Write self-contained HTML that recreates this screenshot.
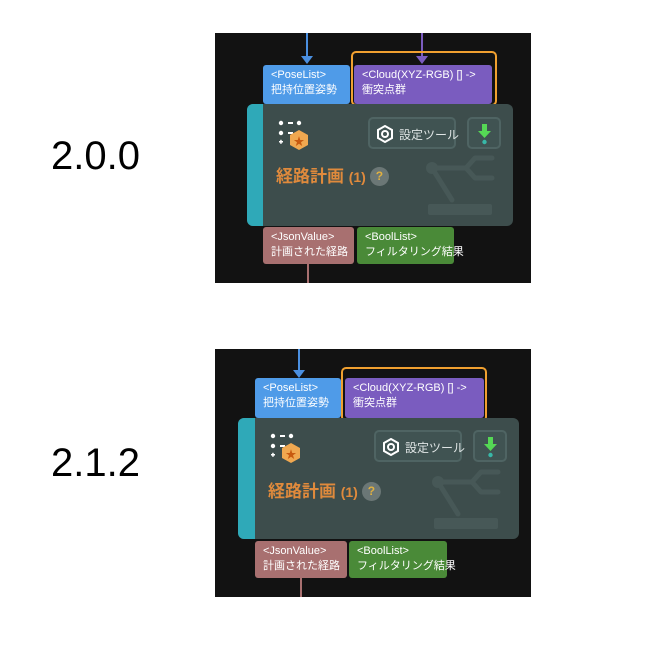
<!DOCTYPE html>
<html><head><meta charset="utf-8"><style>
*{margin:0;padding:0;box-sizing:border-box}
body{width:645px;height:651px;background:#fff;position:relative;overflow:hidden;font-family:"Liberation Sans","Noto Sans CJK JP",sans-serif}
.ver{position:absolute;left:51px;font-size:40px;color:#000;font-family:"Liberation Sans",sans-serif}
.panel{position:absolute;left:215px;width:316px;background:#121212}
.ab{position:absolute}
.port{position:absolute;border-radius:3px;color:#fff;font-size:11px;line-height:15px;padding:3px 0 0 8px;white-space:nowrap}
.node{position:absolute;background:#3d4d4c;border-radius:6px;overflow:hidden}
.strip{position:absolute;left:0;top:0;bottom:0;width:16px;background:#2fa9b8}
.btn{position:absolute;top:13px;height:32px;border:2px solid #4f6463;border-radius:5px;background:#405352}
.title{position:absolute;font-size:17px;font-weight:bold;color:#e08a3c;white-space:nowrap}
.q{display:inline-block;width:19px;height:19px;border-radius:50%;background:#6b7776;color:#e0b040;font-size:12px;text-align:center;line-height:19px;vertical-align:2px;margin-left:4px}
</style></head><body>
<div class="ver" style="top:134px">2.0.0</div>
<div class="ver" style="top:441px">2.1.2</div>

<div class="panel" style="top:33px;height:250px"></div>
<div class="panel" style="top:349px;height:248px"></div>
<svg class="ab" style="left:0;top:0" width="645" height="651">
<line x1="307" y1="33" x2="307" y2="58" stroke="#4a8fe0" stroke-width="2"/>
<polygon points="301,56 313,56 307,64" fill="#4a8fe0"/>
<line x1="422" y1="33" x2="422" y2="58" stroke="#7b5cc0" stroke-width="2"/>
<polygon points="416,56 428,56 422,64" fill="#7b5cc0"/>
<line x1="308" y1="264" x2="308" y2="283" stroke="#a87070" stroke-width="2"/>
<line x1="299" y1="349" x2="299" y2="372" stroke="#4a8fe0" stroke-width="2"/>
<polygon points="293,370 305,370 299,378" fill="#4a8fe0"/>
<line x1="301" y1="578" x2="301" y2="597" stroke="#a87070" stroke-width="2"/>
</svg>

<div class="ab" style="left:351px;top:51px;width:146px;height:55px;border:2px solid #f0a030;border-radius:5px"></div>
<div class="port" style="left:263px;top:65px;width:87px;height:39px;background:#4f9be8">&lt;PoseList&gt;<br>把持位置姿勢</div>
<div class="port" style="left:354px;top:65px;width:138px;height:39px;background:#7a5cbf">&lt;Cloud(XYZ-RGB) [] -&gt;<br>衝突点群</div>
<div class="node" style="left:247px;top:104px;width:266px;height:122px">
 <div class="strip"></div>
 <svg class="ab" style="right:0;top:0" width="266" height="122"><g stroke="#475857" stroke-width="5" fill="none" stroke-linecap="round" stroke-linejoin="round"><line x1="185" y1="64" x2="205" y2="96"/><path d="M185 64 L219 64 L228 54 L245 54 M219 64 L228 74 L245 74"/></g><circle cx="185" cy="64" r="6" fill="#475857"/><rect x="181" y="100" width="64" height="11" rx="2" fill="#475857"/></svg>
 <svg class="ab" style="left:31px;top:16px" width="36" height="32"><g fill="#fff"><circle cx="3" cy="3" r="2.2"/><rect x="10" y="2" width="5" height="2"/><circle cx="21" cy="3" r="2.2"/><circle cx="3" cy="13" r="2.2"/><rect x="10" y="12" width="5" height="2"/><rect x="1" y="21" width="4" height="1.5"/><rect x="2.2" y="19.8" width="1.5" height="4"/></g><polygon points="21,10 30,15 30,25 21,30 12,25 12,15" fill="#f0a850"/><text x="21" y="25" font-size="11" fill="#c85a10" text-anchor="middle">★</text></svg>
 <div class="btn" style="right:57px;width:88px"><svg class="ab" style="left:6px;top:6px" width="18" height="18"><polygon points="9,1 16,5 16,13 9,17 2,13 2,5" fill="none" stroke="#fff" stroke-width="2"/><circle cx="9" cy="9" r="3" fill="none" stroke="#fff" stroke-width="2"/></svg><span class="ab" style="left:29px;top:7px;font-size:12px;color:#dfe5e5;white-space:nowrap">設定ツール</span></div>
 <div class="btn" style="right:12px;width:34px"><svg class="ab" style="left:8px;top:4px" width="16" height="22"><rect x="5" y="1" width="5" height="7" fill="#55d855"/><polygon points="1,8 14,8 7.5,15" fill="#55d855"/><circle cx="7.5" cy="19" r="2.2" fill="#38b8a8"/></svg></div>
 <div class="title" style="left:29px;top:58px">経路計画 <span style="font-size:14px">(1)</span><span class="q">?</span></div>
</div>
<div class="port" style="left:263px;top:227px;width:91px;height:37px;background:#a87070">&lt;JsonValue&gt;<br>計画された経路</div>
<div class="port" style="left:357px;top:227px;width:97px;height:37px;background:#4a8a38">&lt;BoolList&gt;<br>フィルタリング結果</div>

<div class="ab" style="left:341px;top:367px;width:146px;height:55px;border:2px solid #f0a030;border-radius:5px"></div>
<div class="port" style="left:255px;top:378px;width:86px;height:40px;background:#4f9be8">&lt;PoseList&gt;<br>把持位置姿勢</div>
<div class="port" style="left:345px;top:378px;width:139px;height:40px;background:#7a5cbf">&lt;Cloud(XYZ-RGB) [] -&gt;<br>衝突点群</div>
<div class="node" style="left:238px;top:418px;width:281px;height:121px">
 <div class="strip" style="width:17px"></div>
 <svg class="ab" style="right:0;top:0" width="266" height="122"><g stroke="#475857" stroke-width="5" fill="none" stroke-linecap="round" stroke-linejoin="round"><line x1="185" y1="64" x2="205" y2="96"/><path d="M185 64 L219 64 L228 54 L245 54 M219 64 L228 74 L245 74"/></g><circle cx="185" cy="64" r="6" fill="#475857"/><rect x="181" y="100" width="64" height="11" rx="2" fill="#475857"/></svg>
 <svg class="ab" style="left:32px;top:15px" width="36" height="32"><g fill="#fff"><circle cx="3" cy="3" r="2.2"/><rect x="10" y="2" width="5" height="2"/><circle cx="21" cy="3" r="2.2"/><circle cx="3" cy="13" r="2.2"/><rect x="10" y="12" width="5" height="2"/><rect x="1" y="21" width="4" height="1.5"/><rect x="2.2" y="19.8" width="1.5" height="4"/></g><polygon points="21,10 30,15 30,25 21,30 12,25 12,15" fill="#f0a850"/><text x="21" y="25" font-size="11" fill="#c85a10" text-anchor="middle">★</text></svg>
 <div class="btn" style="right:57px;width:88px;top:12px"><svg class="ab" style="left:6px;top:6px" width="18" height="18"><polygon points="9,1 16,5 16,13 9,17 2,13 2,5" fill="none" stroke="#fff" stroke-width="2"/><circle cx="9" cy="9" r="3" fill="none" stroke="#fff" stroke-width="2"/></svg><span class="ab" style="left:29px;top:7px;font-size:12px;color:#dfe5e5;white-space:nowrap">設定ツール</span></div>
 <div class="btn" style="right:12px;width:34px;top:12px"><svg class="ab" style="left:8px;top:4px" width="16" height="22"><rect x="5" y="1" width="5" height="7" fill="#55d855"/><polygon points="1,8 14,8 7.5,15" fill="#55d855"/><circle cx="7.5" cy="19" r="2.2" fill="#38b8a8"/></svg></div>
 <div class="title" style="left:30px;top:59px">経路計画 <span style="font-size:14px">(1)</span><span class="q">?</span></div>
</div>
<div class="port" style="left:255px;top:541px;width:92px;height:37px;background:#a87070">&lt;JsonValue&gt;<br>計画された経路</div>
<div class="port" style="left:349px;top:541px;width:98px;height:37px;background:#4a8a38">&lt;BoolList&gt;<br>フィルタリング結果</div>
</body></html>
